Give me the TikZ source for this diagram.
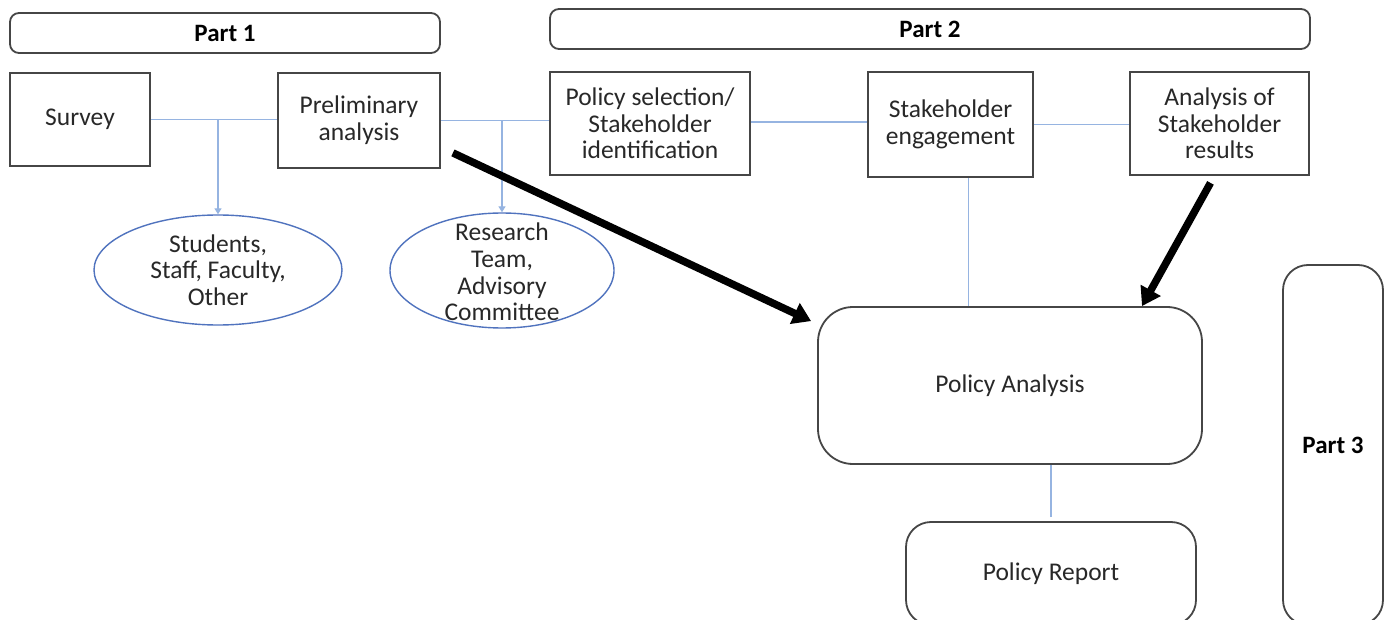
\documentclass[tikz,border=0pt]{standalone}
\usepackage{fontspec}
\setmainfont{Carlito}
\usetikzlibrary{shapes.geometric,arrows.meta}
\definecolor{boxline}{RGB}{70,70,70}
\definecolor{linkblue}{RGB}{150,180,225}
\definecolor{ellblue}{RGB}{80,115,190}
\definecolor{txtgray}{RGB}{40,40,40}
\begin{document}
\begin{tikzpicture}[x=1pt,y=-1pt,
  txt/.style={font=\fontsize{25.5}{26.7}\selectfont, align=center, text=txtgray},
  sqbox/.style={draw=boxline, line width=1.8pt, rectangle, inner sep=0pt, txt},
  rbox/.style={sqbox, rounded corners=#1},
  partbox/.style={draw=boxline, line width=1.8pt, rectangle, rounded corners=#1, inner sep=0pt, align=center, text=black, font=\fontsize{25}{26}\selectfont\bfseries},
  ell/.style={draw=ellblue, line width=1.4pt, ellipse, inner sep=0pt},
  link/.style={draw=linkblue, line width=1.4pt},
  linkarrow/.style={link, -{Triangle[width=7pt,length=6pt]}},
  bigarrow/.style={draw=black, line width=7.5pt, -{Triangle[width=22pt,length=18pt]}}
]
\clip (0,0) rectangle (1390,620);
\fill[white] (0,0) rectangle (1390,620);

\node[partbox=9pt, minimum width=430pt, minimum height=40pt] (p1) at (225,33) {Part 1};
\node[partbox=9pt, minimum width=760pt, minimum height=40pt] (p2) at (930,29) {Part 2};

\node[sqbox, minimum width=140pt, minimum height=93pt] (survey) at (80,119.5) {Survey};
\node[sqbox, minimum width=162pt, minimum height=95pt] (prelim) at (359,120.5) {Preliminary\\analysis};
\node[sqbox, minimum width=200pt, minimum height=103pt] (polsel) at (650,123.5) {Policy selection/\\Stakeholder\\identification};
\node[sqbox, minimum width=165pt, minimum height=105pt] (stake) at (950.5,124.5) {Stakeholder\\engagement};
\node[sqbox, minimum width=179pt, minimum height=103pt] (anal) at (1219.5,123.5) {Analysis of\\Stakeholder\\results};

\node[ell, minimum width=248pt, minimum height=110pt] (e1) at (218,270) {};
\node[txt] (e1t) at (e1.center) {Students,\\Staff, Faculty,\\Other};
\node[ell, minimum width=224pt, minimum height=115pt] (e2) at (502,270.5) {};
\node[txt] (e2t) at (502,272) {Research\\Team,\\Advisory\\Committee};

\node[rbox=35pt, minimum width=384pt, minimum height=157pt] (pa) at (1010,385.5) {Policy Analysis};
\node[rbox=25pt, minimum width=290pt, minimum height=103pt] (pr) at (1051,573.5) {Policy Report};
\node[partbox=25pt, minimum width=100pt, minimum height=360pt] (p3) at (1333,445) {Part 3};

% blue connectors
\draw[link] (survey.east) -- (survey.east -| prelim.west);
\coordinate (b1) at (survey.east -| e1.north);
\draw[linkarrow] (b1) -- (e1.north);
\draw[link] (prelim.east) -- (prelim.east -| polsel.west);
\coordinate (b2) at (prelim.east -| e2.north);
\draw[linkarrow] (b2) -- (e2.north);
\coordinate (c1) at ([yshift=1.5pt]polsel.east);
\draw[link] (c1) -- (c1 -| stake.west);
\draw[link] (stake.east) -- (stake.east -| anal.west);
\coordinate (sdrop) at ([xshift=18pt]stake.south);
\draw[link] (sdrop) -- (sdrop |- pa.north);
\draw[link] (pr.north) ++(0,-4) coordinate (rtop);
\draw[link] (rtop) -- (rtop |- pa.south);

% thick black arrows
\coordinate (a1s) at ([shift={(12,-16)}]prelim.south east);
\coordinate (a1e) at ([shift={(-6,15)}]pa.north west);
\draw[bigarrow] (a1s) -- (a1e);
\coordinate (a2s) at ([shift={(-9,7)}]anal.south);
\coordinate (a2e) at ([xshift=132pt]pa.north);
\draw[bigarrow] (a2s) -- (a2e);
\end{tikzpicture}
\end{document}
